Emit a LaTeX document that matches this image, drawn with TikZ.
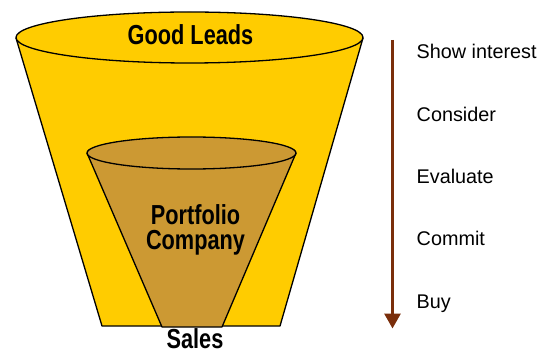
\documentclass[tikz,border=0pt]{standalone}
\usepackage{fontspec}
\setmainfont{Liberation Sans}
\newfontfamily\narrowfont[FakeStretch=0.79]{Liberation Sans}
\usetikzlibrary{arrows.meta}
\definecolor{funnelyellow}{HTML}{FFCC00}
\definecolor{funneltan}{HTML}{CC9933}
\definecolor{arrowbrown}{HTML}{7A2E0B}
\tikzset{
  edge/.style={draw=black, line width=1.3pt, line join=round},
  bigtext/.style={font=\narrowfont\bfseries\fontsize{27.5}{25}\selectfont, anchor=base, align=center, inner sep=0pt},
  steptext/.style={font=\fontsize{19.8}{22}\selectfont, anchor=base west, inner sep=0pt},
}
\begin{document}
\begin{tikzpicture}[x=1pt,y=-1pt]
\useasboundingbox (0,0) rectangle (545,355);
% outer funnel
\fill[funnelyellow] (16,38) -- (102,326) -- (280,326) -- (363,38) -- cycle;
\draw[edge] (16,38) -- (102,326) -- (280,326) -- (363,38);
\filldraw[edge, fill=funnelyellow] (189.5,37.5) ellipse [x radius=173.5, y radius=25.5];
% inner funnel
\fill[funneltan] (87,153) -- (162,327) -- (222,327) -- (296,153) -- cycle;
\draw[edge] (87,153) -- (162,327) -- (222,327) -- (296,153);
\filldraw[edge, fill=funneltan] (191.5,153) ellipse [x radius=104.5, y radius=16];
% texts
\node[bigtext] (good) at (190.5,44.5) {Good Leads};
\node[bigtext] (portfolio) at (195.5,224) {Portfolio};
\node[bigtext] (company) at (195.5,249) {Company};
\node[bigtext] (sales) at (195,348.5) {Sales};
% arrow
\coordinate (arrtop) at (392.5,40);
\coordinate (arrbot) at (392.5,328.5);
\draw[arrowbrown, line width=3pt, -{Triangle[width=16pt,length=15pt]}] (arrtop) -- (arrbot);
% steps
\node[steptext] (s1) at (416.5,59) {Show interest};
\node[steptext] (s2) at (416.5,121.3) {Consider};
\node[steptext] (s3) at (416.5,183.6) {Evaluate};
\node[steptext] (s4) at (416.5,245.9) {Commit};
\node[steptext] (s5) at (416.5,308.3) {Buy};
\end{tikzpicture}
\end{document}
